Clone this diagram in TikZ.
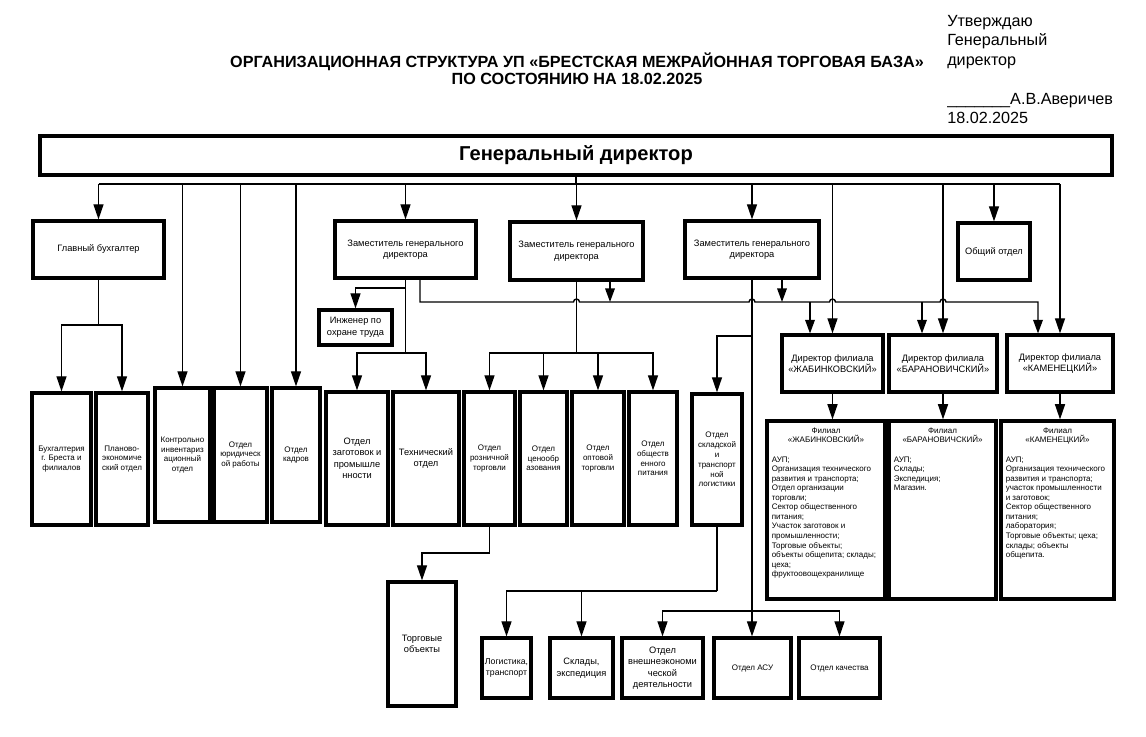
\documentclass[tikz,border=0pt]{standalone}
\usepackage{fontspec}
\setmainfont{Liberation Sans}
\usetikzlibrary{positioning, arrows.meta}
\definecolor{border}{HTML}{000000}
\definecolor{lineCol}{HTML}{000000}
\tikzset{
  sz/.style 2 args={minimum width=#1*0.025cm, minimum height=#2*0.025cm},
  mainbox/.style={
    rectangle, draw=border, line width=2.2pt, align=center,
    inner sep=1pt, font=\fontsize{6.6}{8.2}\selectfont,
  },
  smallbox/.style={mainbox, font=\fontsize{5.7}{6.8}\selectfont},
  filbox/.style={mainbox, inner xsep=0.12cm, inner ysep=0.17cm, font=\fontsize{5.7}{6.8}\selectfont},
  conn/.style={lineCol, line width=1pt},
  arrow/.style={conn, -{Triangle[length=0.38cm, width=0.25cm]}},
  sarrow/.style={conn, -{Triangle[length=0.34cm, width=0.24cm]}},
  busline/.style={lineCol, line width=2pt},
}

\begin{document}
\begin{tikzpicture}[x=0.025cm, y=-0.025cm]
  \useasboundingbox (0,0) rectangle (1146,737);

  % Header
  \node[font=\fontsize{11.5}{12}\selectfont\bfseries, align=center] (title) at (577,68.5)
    {ОРГАНИЗАЦИОННАЯ СТРУКТУРА УП «БРЕСТСКАЯ МЕЖРАЙОННАЯ ТОРГОВАЯ БАЗА»\\ПО СОСТОЯНИЮ НА 18.02.2025};
  \node[font=\fontsize{11.5}{13.8}\selectfont, align=left, anchor=north west, inner sep=0pt] (approve) at (947,15)
    {Утверждаю\\Генеральный\\директор\\[13.8pt]\_\_\_\_\_\_\_А.В.Аверичев\\18.02.2025};

  % Top level
  \node[mainbox, sz={1072}{39}, line width=2.2pt, font=\fontsize{14.3}{16}\selectfont\bfseries] (gd) at (576,155.5) {Генеральный директор};

  % Second row
  \node[mainbox, sz={131}{57}] (gb) at (98.5,249.5) {Главный бухгалтер};
  \node[mainbox, sz={141}{57}] (z1) at (405.5,249.5) {Заместитель генерального\\директора};
  \node[mainbox, sz={133}{58}] (z2) at (576.5,251) {Заместитель генерального\\директора};
  \node[mainbox, sz={134}{57}] (z3) at (752,249.5) {Заместитель генерального\\директора};
  \node[mainbox, sz={72}{57}] (ob) at (994,251.5) {Общий отдел};
  \node[mainbox, sz={73}{35}] (ing) at (355.5,327.5) {Инженер по\\охране труда};

  % Branch directors
  \node[mainbox, sz={101}{57}] (dj) at (832.5,363.5) {Директор филиала\\«ЖАБИНКОВСКИЙ»};
  \node[mainbox, sz={108}{57}] (db) at (943,363.5) {Директор филиала\\«БАРАНОВИЧСКИЙ»};
  \node[mainbox, sz={106}{57}] (dk) at (1060,363.5) {Директор филиала\\«КАМЕНЕЦКИЙ»};

  % Departments
  \node[smallbox, sz={59}{132}] (bux) at (61.5,459) {Бухгалтерия\\г. Бреста и\\филиалов};
  \node[smallbox, sz={52}{132}] (plan) at (122,459) {Планово-\\экономиче\\ский отдел};
  \node[smallbox, sz={55}{134}] (kontr) at (182.5,455) {Контрольно\\инвентариз\\ационный\\отдел};
  \node[smallbox, sz={53}{134}] (yur) at (240.5,455) {Отдел\\юридическ\\ой работы};
  \node[smallbox, sz={48}{134}] (kadr) at (296,455) {Отдел\\кадров};
  \node[mainbox, sz={62}{133}] (zag) at (357,458.5) {Отдел\\заготовок и\\промышле\\нности};
  \node[mainbox, sz={66}{133}] (tex) at (426,458.5) {Технический\\отдел};
  \node[smallbox, sz={51}{133}] (rozn) at (489.5,458.5) {Отдел\\розничной\\торговли};
  \node[smallbox, sz={47}{133}] (cen) at (543.5,458.5) {Отдел\\ценообр\\азования};
  \node[smallbox, sz={52}{133}] (opt) at (598,458.5) {Отдел\\оптовой\\торговли};
  \node[smallbox, sz={48}{133}] (obsch) at (653,458.5) {Отдел\\обществ\\енного\\питания};
  \node[smallbox, sz={50}{131}, font=\fontsize{5.7}{7}\selectfont] (skl) at (717,459.5) {Отдел\\складской\\и\\транспорт\\ной\\логистики};

  % Lower row
  \node[mainbox, sz={68}{124}] (torg) at (422,644) {Торговые\\объекты};
  \node[mainbox, sz={49}{60}, font=\fontsize{6.2}{8.2}\selectfont] (log) at (506.5,668) {Логистика,\\транспорт};
  \node[mainbox, sz={63}{60}] (sklad) at (581.5,668) {Склады,\\экспедиция};
  \node[mainbox, sz={81}{60}] (ved) at (662.5,668) {Отдел\\внешнеэкономи\\ческой\\деятельности};
  \node[smallbox, sz={77}{60}] (asu) at (752.5,668) {Отдел АСУ};
  \node[smallbox, sz={81}{60}] (kach) at (839.5,668) {Отдел качества};

  % Branches
  \node[filbox] (fj) at (826,510) {\parbox[t][4.11cm][t]{2.71cm}{{\centering Филиал\\«ЖАБИНКОВСКИЙ»\par}\vspace{6.8pt}\raggedright
    АУП;\\Организация технического\\развития и транспорта;\\Отдел организации\\торговли;\\Сектор общественного\\питания;\\Участок заготовок и\\промышленности;\\Торговые объекты;\\объекты общепита; склады;\\цеха;\\фруктоовощехранилище}};
  \node[filbox] (fb) at (942.5,510) {\parbox[t][4.11cm][t]{2.435cm}{{\centering Филиал\\«БАРАНОВИЧСКИЙ»\par}\vspace{6.8pt}\raggedright
    АУП;\\Склады;\\Экспедиция;\\Магазин.}};
  \node[filbox] (fk) at (1057.5,510) {\parbox[t][4.11cm][t]{2.585cm}{{\centering Филиал\\«КАМЕНЕЦКИЙ»\par}\vspace{6.8pt}\raggedright
    АУП;\\Организация технического\\развития и транспорта;\\участок промышленности\\и заготовок;\\Сектор общественного\\питания;\\лаборатория;\\Торговые объекты; цеха;\\склады; объекты\\общепита.}};

  % Junctions
  \coordinate (busL) at (98.5,184);
  \coordinate (busR) at (1060,184);
  \coordinate (sbL) at (420,302);
  \coordinate (sbR) at (1038,302);
  \coordinate (sbJ) at (810,302);
  \coordinate (sbB) at (922,302);
  \coordinate (f2) at (610,302);
  \coordinate (f3) at (782,302);
  \coordinate (gbJ) at (98.5,325);
  \coordinate (z1I) at (405.5,288);
  \coordinate (z1J) at (405.5,353);
  \coordinate (z2J) at (576.5,353);
  \coordinate (z3S) at (752,336);
  \coordinate (z3B) at (752,611);
  \coordinate (rzJ) at (489.5,553);
  \coordinate (skJ) at (717,591);

  % Main bus
  \draw[busline] (gd.south) -- (gd.south |- busL);
  \draw[busline] (busL) -- (busR);
  \foreach \n in {gb, kontr, yur, kadr, z1, z2, z3, ob, dj, db}
    \draw[arrow] (\n.north |- busL) -- (\n.north);
  \draw[arrow] (busR) -- (dk.north);

  % Deputies to branch directors
  \draw[sarrow] (z1.south -| sbL) -- (sbL)
    -- (573.5,302) arc[start angle=180, end angle=0, radius=0.075cm]
    -- (749,302) arc[start angle=180, end angle=0, radius=0.075cm]
    -- (829.5,302) arc[start angle=180, end angle=0, radius=0.075cm]
    -- (940,302) arc[start angle=180, end angle=0, radius=0.075cm]
    -- (sbR) -- (sbR |- dk.north);
  \draw[sarrow] (z2.south -| f2) -- (f2);
  \draw[sarrow] (z3.south -| f3) -- (f3);
  \draw[sarrow] (sbJ) -- (sbJ |- dj.north);
  \draw[sarrow] (sbB) -- (sbB |- db.north);

  % Chief accountant
  \draw[conn] (gb.south) -- (gbJ);
  \draw[arrow] (gbJ) -| (bux.north);
  \draw[arrow] (gbJ) -| (plan.north);

  % Deputy 1
  \draw[conn] (z1.south) -- (z1J);
  \draw[arrow] (z1I) -| (ing.north);
  \draw[arrow] (z1J) -| (zag.north);
  \draw[arrow] (z1J) -| (tex.north);

  % Deputy 2
  \draw[conn] (z2.south) -- (z2J);
  \foreach \n in {rozn, cen, opt, obsch}
    \draw[arrow] (z2J) -| (\n.north);
  \draw[arrow] (rozn.south) -- (rzJ) -| (torg.north);

  % Deputy 3
  \draw[arrow] (z3.south) -- (z3.south |- asu.north);
  \draw[arrow] (z3S) -| (skl.north);
  \draw[arrow] (z3B) -| (ved.north);
  \draw[arrow] (z3B) -| (kach.north);
  \draw[conn] (skl.south) -- (skJ);
  \draw[arrow] (skJ) -| (log.north);
  \draw[arrow] (skJ) -| (sklad.north);

  % Branch directors to branches
  \foreach \d/\f in {dj/fj, db/fb, dk/fk}
    \draw[arrow] (\d.south) -- (\d.south |- \f.north);

\end{tikzpicture}
\end{document}
